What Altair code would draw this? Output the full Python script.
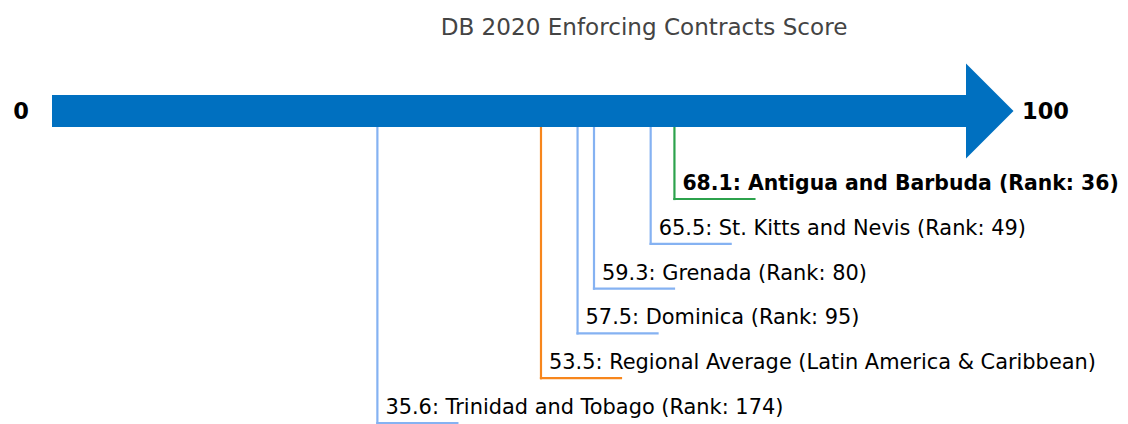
import altair as alt
import pandas as pd

# ---- data ----
names = ["Antigua and Barbuda", "St. Kitts and Nevis", "Grenada", "Dominica",
         "Regional Average (Latin America & Caribbean)", "Trinidad and Tobago"]
scores = [68.1, 65.5, 59.3, 57.5, 53.5, 35.6]
ranks = [36, 49, 80, 95, None, 174]
levels = [1, 2, 3, 4, 5, 6]
kinds = ["focus", "peer", "peer", "peer", "regional", "peer"]
title_text = "DB 2020 Enforcing Contracts Score"
axis_min, axis_max = 0, 100

labels = []
for n, s, r in zip(names, scores, ranks):
    if r is None:
        labels.append(f"{s}: {n}")
    else:
        labels.append(f"{s}: {n} (Rank: {r})")

df = pd.DataFrame({"name": names, "score": scores, "level": levels,
                   "kind": kinds, "label": labels,
                   "bold": [k == "focus" for k in kinds]})
ends = pd.DataFrame({"v": [axis_min], "v2": [axis_max]})
end_labels = pd.DataFrame({"v": [axis_min, axis_max], "t": [str(axis_min), str(axis_max)]})

BLUE = "#0070C0"
xs = alt.Scale(domain=[0, 100], range=[44, 958])
ys = alt.Scale(domain=[1, 6], range=[191, 415])
cs = alt.Scale(domain=["focus", "peer", "regional"],
               range=["#2CA24C", "#85B2F2", "#F7861C"])
FONT = "DejaVu Sans"
LBL = 20.9

shaft = alt.Chart(ends).mark_rule(color=BLUE, strokeWidth=32, strokeCap="butt").encode(
    x=alt.X("v:Q", scale=xs, axis=None),
    x2="v2:Q",
    y=alt.value(103),
)
head = alt.Chart(ends).mark_point(
    shape="M0,-1L1,0L0,1Z", size=9025, filled=True, color=BLUE, opacity=1, strokeWidth=0
).encode(
    x=alt.X("v2:Q", scale=xs, axis=None),
    y=alt.value(103),
)

vlines = alt.Chart(df).mark_rule(strokeWidth=2.2, strokeCap="square").encode(
    x=alt.X("score:Q", scale=xs, axis=None),
    y=alt.Y("level:Q", scale=ys, axis=None),
    y2=alt.value(119),
    color=alt.Color("kind:N", scale=cs, legend=None),
)
hlines = alt.Chart(df).mark_rule(strokeWidth=2.2, strokeCap="square", x2Offset=80).encode(
    x=alt.X("score:Q", scale=xs, axis=None),
    x2="score:Q",
    y=alt.Y("level:Q", scale=ys, axis=None),
    color=alt.Color("kind:N", scale=cs, legend=None),
)

text_norm = alt.Chart(df).transform_filter("!datum.bold").mark_text(
    align="left", baseline="alphabetic", dx=8, dy=-9, fontSize=LBL, font=FONT, color="black"
).encode(
    x=alt.X("score:Q", scale=xs, axis=None),
    y=alt.Y("level:Q", scale=ys, axis=None),
    text="label:N",
)
text_bold = alt.Chart(df).transform_filter("datum.bold").mark_text(
    align="left", baseline="alphabetic", dx=8, dy=-9, fontSize=20.4, font=FONT,
    fontWeight="bold", color="black"
).encode(
    x=alt.X("score:Q", scale=xs, axis=None),
    y=alt.Y("level:Q", scale=ys, axis=None),
    text="label:N",
)

end_lo = alt.Chart(end_labels).transform_filter(f"datum.v == {axis_min}").mark_text(
    align="center", baseline="middle", dx=-31, fontSize=22.5, font=FONT,
    fontWeight="bold", color="black"
).encode(
    x=alt.X("v:Q", scale=xs, axis=None),
    y=alt.value(104),
    text="t:N",
)
end_hi = alt.Chart(end_labels).transform_filter(f"datum.v == {axis_max}").mark_text(
    align="left", baseline="middle", dx=56, fontSize=22.5, font=FONT,
    fontWeight="bold", color="black"
).encode(
    x=alt.X("v:Q", scale=xs, axis=None),
    y=alt.value(104),
    text="t:N",
)

title = alt.Chart(pd.DataFrame({"t": [title_text]})).mark_text(
    align="center", baseline="alphabetic", fontSize=23.1, font=FONT, color="#444444"
).encode(x=alt.value(636), y=alt.value(27), text="t:N")

chart = alt.layer(vlines, hlines, shaft, head, text_norm, text_bold, end_lo, end_hi, title).properties(
    width=1112, height=416,
    autosize=alt.AutoSizeParams(type="none"),
    padding=0,
).configure_view(stroke=None)

chart.save("out.html", embed_options={"renderer": "svg", "actions": False})
